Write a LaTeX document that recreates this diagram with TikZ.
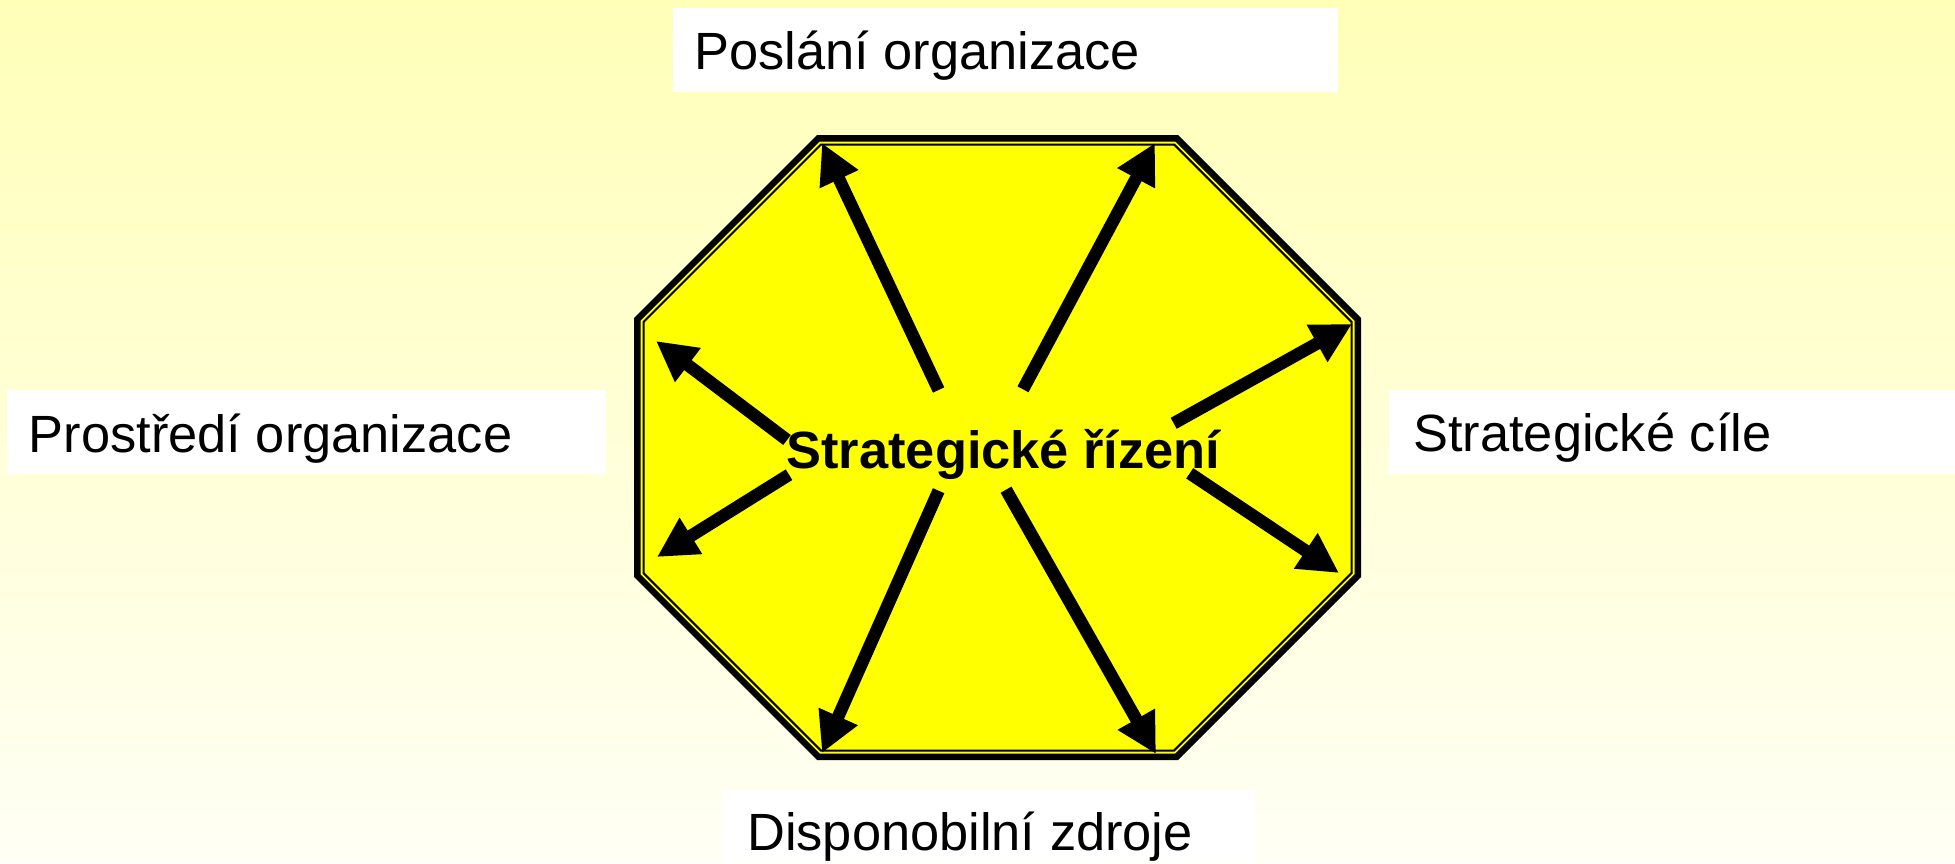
\documentclass[tikz,border=0pt]{standalone}
\usepackage{fontspec}
\setmainfont{Liberation Sans}
\usetikzlibrary{arrows.meta}
\definecolor{bgtop}{RGB}{255,255,184}
\definecolor{bgbot}{RGB}{255,255,245}
\definecolor{octyellow}{RGB}{255,255,0}
\newcommand\octpath[5]{(#1+#5,#3) -- (#2-#5,#3) -- (#2,#3+#5) -- (#2,#4-#5) -- (#2-#5,#4) -- (#1+#5,#4) -- (#1,#4-#5) -- (#1,#3+#5) -- cycle}
\begin{document}
\begin{tikzpicture}[x=1pt,y=-1pt,
  labelbox/.style={rectangle, fill=white, draw=none, inner sep=0pt, anchor=north west},
  labeltext/.style={inner sep=0pt, anchor=base west, font=\fontsize{52.4}{60}\selectfont},
  centertext/.style={inner sep=0pt, anchor=base, font=\fontsize{52.4}{60}\selectfont\bfseries},
  ray/.style={line width=12.5pt, -{Triangle[length=40pt,width=40pt]}},
  octouter/.style={fill=octyellow, draw=black, line width=6.5pt, line join=miter},
  octinner/.style={draw=black, line width=2pt, line join=miter}]
\useasboundingbox (0,0) rectangle (1955,863);
\shade[top color=bgtop, bottom color=bgbot] (0,0) rectangle (1955,863);
% octagon
\path[octouter] \octpath{637.25}{1357.75}{138.25}{756.75}{181.1};
\path[octinner] \octpath{643.5}{1351.5}{144.5}{750.5}{177.4};
% label boxes
\node[labelbox, minimum width=665pt, minimum height=84.4pt] (boxTop) at (673,7.3) {};
\node[labelbox, minimum width=599pt, minimum height=84pt] (boxLeft) at (7,390) {};
\node[labelbox, minimum width=566.4pt, minimum height=84pt] (boxRight) at (1388.6,390) {};
\node[labelbox, minimum width=533pt, minimum height=72pt] (boxBottom) at (722,791) {};
\node[labeltext] (txtTop) at (694,69) {Poslání organizace};
\node[labeltext] (txtLeft) at (28.6,452) {Prostředí organizace};
\node[labeltext] (txtRight) at (1413,451) {Strategické cíle};
\node[labeltext] (txtBottom) at (747,850) {Disponobilní zdroje};
% arrow coordinates
\coordinate (s1) at (938.6,390);   \coordinate (t1) at (822,143);
\coordinate (s2) at (1023,389.3);  \coordinate (t2) at (1155,143);
\coordinate (s3) at (1173.7,423.3);\coordinate (t3) at (1352,324);
\coordinate (s4) at (787,440);     \coordinate (t4) at (656,341);
\coordinate (s5) at (789,474.7);   \coordinate (t5) at (657,557);
\coordinate (s6) at (938.6,490.7); \coordinate (t6) at (822,753);
\coordinate (s7) at (1006,489.7);  \coordinate (t7) at (1156,754);
\coordinate (s8) at (1189.7,473.3);\coordinate (t8) at (1339,573);
\foreach \i in {1,...,8} {\draw[ray] (s\i) -- (t\i);}
\node[centertext] (center) at (1003.5,468) {Strategické řízení};
\end{tikzpicture}
\end{document}
